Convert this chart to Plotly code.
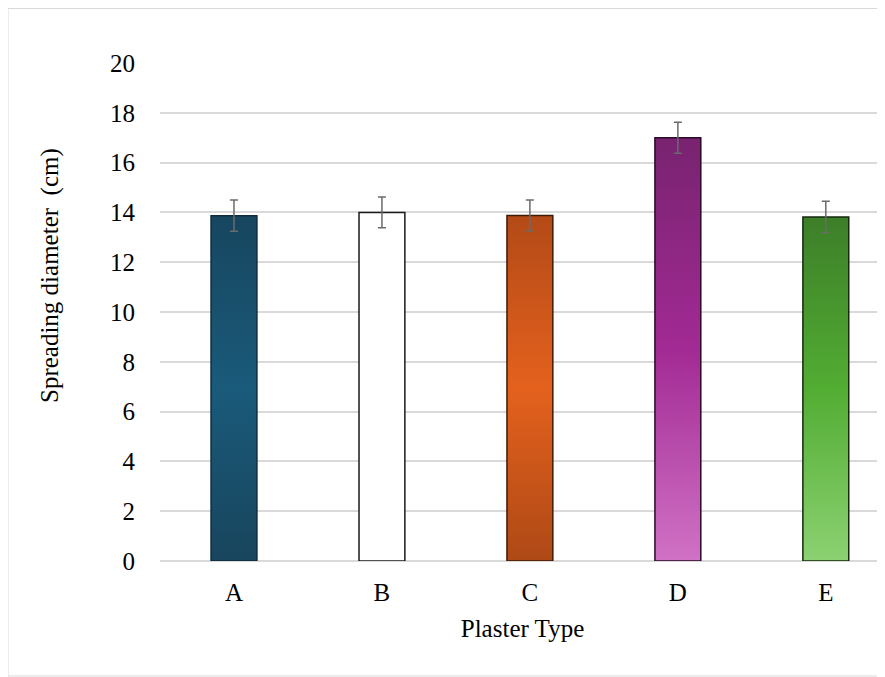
import plotly.graph_objects as go

categories = ["A", "B", "C", "D", "E"]
values = [13.87, 14.0, 13.88, 17.0, 13.82]
errors = [0.63, 0.62, 0.62, 0.62, 0.63]
y_ticks = [0, 2, 4, 6, 8, 10, 12, 14, 16, 18, 20]

# gradient colours: bottom, middle, top
grad_colors = [
    ["#18455d", "#1a5a7a", "#17465f"],
    ["#ffffff", "#ffffff", "#ffffff"],
    ["#ae4916", "#e4611d", "#b34a17"],
    ["#d072c5", "#a22a94", "#782370"],
    ["#8cd172", "#52ad33", "#3d7e29"],
]
outline_colors = ["#0e2c3c", "#1a1a1a", "#3f1a06", "#2a0a27", "#132a0e"]
bar_width = 0.31

fig = go.Figure()
for i, (cat, v) in enumerate(zip(categories, values)):
    x0, x1 = i - bar_width / 2, i + bar_width / 2
    bc, mc, tc = grad_colors[i]
    fig.add_trace(go.Scatter(
        x=[x0, x1, x1, x0, x0], y=[0, 0, v, v, 0],
        mode="lines", fill="toself",
        fillcolor=mc,
        fillgradient=dict(type="vertical", colorscale=[[0, bc], [0.5, mc], [1, tc]]),
        line=dict(color=outline_colors[i], width=1.5),
        name=cat, showlegend=False, hoverinfo="skip",
    ))

fig.add_trace(go.Scatter(
    x=list(range(len(categories))), y=values, mode="markers",
    marker=dict(size=1, opacity=0),
    error_y=dict(type="data", array=errors, color="#6b6b6b", thickness=1.5, width=4),
    showlegend=False, hoverinfo="skip",
))

serif = "Liberation Serif"
FS = 25
L, T, PW, PH = 152, 55, 725, 498
fig.update_layout(
    width=885, height=677,
    margin=dict(l=L, r=885 - L - PW, t=T, b=677 - T - PH),
    paper_bgcolor="white", plot_bgcolor="white",
    font=dict(family=serif, color="#000000", size=FS),
    xaxis=dict(
        range=[-0.5, 4.4], tickmode="array",
        tickvals=list(range(len(categories))), ticktext=categories,
        showgrid=False, zeroline=False, showline=False, ticks="",
        ticklabelstandoff=14,
        tickfont=dict(family=serif, size=FS),
        title=dict(text="Plaster Type", font=dict(family=serif, size=FS), standoff=14),
    ),
    yaxis=dict(
        range=[0, 20], tickmode="array", tickvals=y_ticks,
        showgrid=True, gridcolor="#d9d9d9", gridwidth=1.5,
        zeroline=True, zerolinecolor="#d9d9d9", zerolinewidth=1.5,
        showline=False, ticks="",
        ticklabelstandoff=24,
        tickfont=dict(family=serif, size=FS),
    ),
    annotations=[dict(
        text="Spreading diameter  (cm)", textangle=-90,
        xref="paper", yref="paper", x=(42 - L) / PW, y=1 - (268 - T) / PH,
        xanchor="center", yanchor="middle", showarrow=False,
        font=dict(family=serif, size=FS, color="#000000"),
    )],
    shapes=[dict(type="rect", xref="paper", yref="paper",
                 x0=-L / PW, x1=1.05, y0=-(668 - T - PH) / PH, y1=1 + (T - 0.5) / PH,
                 line=dict(color="#d9d9d9", width=1), fillcolor="rgba(0,0,0,0)",
                 layer="below")],
)

fig.write_html("out.html")
